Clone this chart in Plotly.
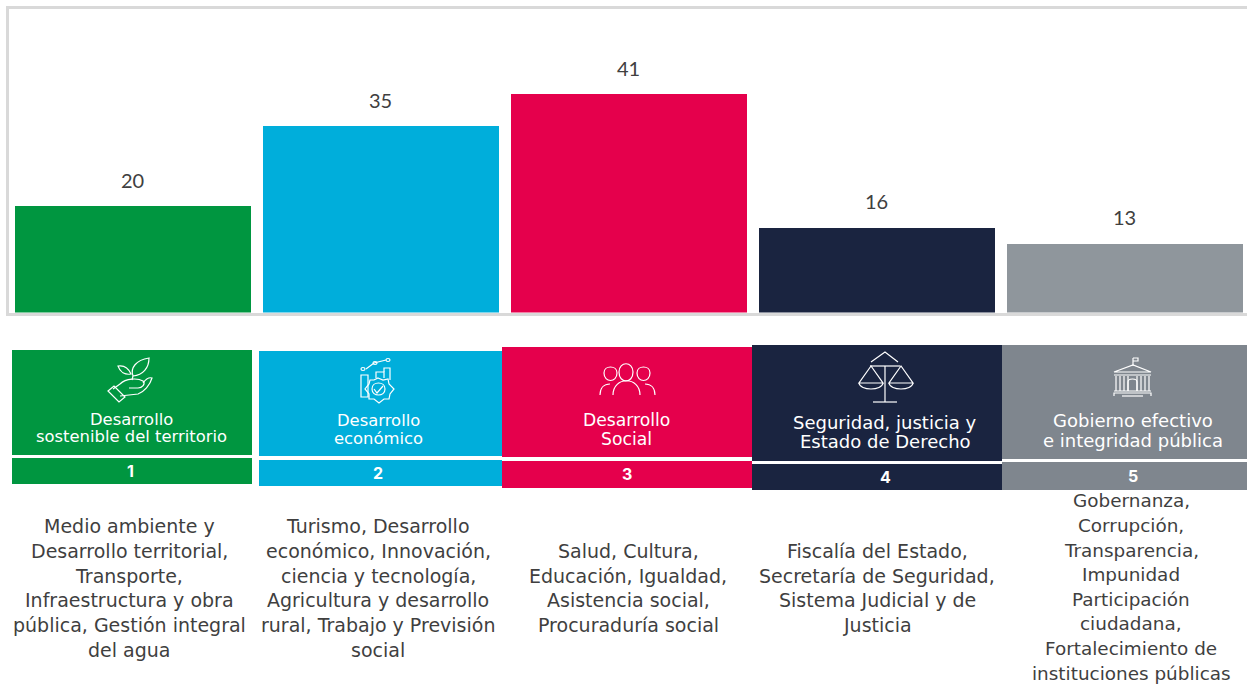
import re
import plotly.graph_objects as go

W, H = 1247, 684

categories = ["1", "2", "3", "4", "5"]
values = [20, 35, 41, 16, 13]
bar_colors = ["#009640", "#00AEDB", "#E5004C", "#1A2440", "#8F969C"]
card_colors = ["#009640", "#00AEDB", "#E5004C", "#1A2440", "#7F868E"]
card_titles = [
    ["Desarrollo", "sostenible del territorio"],
    ["Desarrollo", "económico"],
    ["Desarrollo", "Social"],
    ["Seguridad, justicia y", "Estado de Derecho"],
    ["Gobierno efectivo", "e integridad pública"],
]
descriptions = [
    ["Medio ambiente y", "Desarrollo territorial,", "Transporte,", "Infraestructura y obra",
     "pública, Gestión integral", "del agua"],
    ["Turismo, Desarrollo", "económico, Innovación,", "ciencia y tecnología,",
     "Agricultura y desarrollo", "rural, Trabajo y Previsión", "social"],
    ["Salud, Cultura,", "Educación, Igualdad,", "Asistencia social,", "Procuraduría social"],
    ["Fiscalía del Estado,", "Secretaría de Seguridad,", "Sistema Judicial y de", "Justicia"],
    ["Gobernanza,", "Corrupción,", "Transparencia,", "Impunidad", "Participación",
     "ciudadana,", "Fortalecimiento de", "instituciones públicas"],
]

# layout of the lower panel, page pixels: x0, x1, card top, card bottom, band top, band bottom
card_boxes = [
    (12, 252, 350, 455, 458, 484),
    (259, 502, 351, 456, 460, 486),
    (502, 752, 347, 457, 461, 488),
    (752, 1002, 345, 461, 464, 490),
    (1002, 1247, 345, 459, 462, 490),
]
title_line_y = [(419, 437), (420, 438), (420, 439), (422, 441), (421, 440)]
title_x = [131, 378, 627, 885, 1133]
title_size = [16.4, 16.4, 17.2, 18, 18]
number_x = [130, 378, 627, 885, 1133]
desc_x = [129, 378, 628, 877, 1131]
desc_center_y = [588, 588, 588, 588, 587]
desc_size = [19, 19, 19, 19, 18.4]
desc_spacing = 24.65

icons = [
    [  # hand and plant
        "M133 376 C130 368 136 360 149 358 C149 368 143 375 133 376 Z",
        "M131 374 C128 367 124 365 118 366 C120 372 125 375 131 374 Z",
        "M133 376 L132 380",
        "M120 384 C126 378 138 378 143 381 C146 384 142 388 138 388 L129 388",
        "M120 384 L113 389",
        "M120 396 L138 394 C144 392 150 385 152 378 C149 377 146 379 143 383",
        "M108 391 L114 386 L125 397 L119 402 Z",
    ],
    [  # chart and gear
        "M368 397 L361 397 L361 375 L368 375 Z",
        "M376 378 L376 372 L384 372 L384 378",
        "M384 372 L384 368 L390 368 L390 380",
        "M366 369 L374 363 L386 360",
        "M361 369 C361 367 365 367 365 369 C365 371 361 371 361 369 Z",
        "M373 363 C373 361 377 361 377 363 C377 365 373 365 373 363 Z",
        "M386 360 C386 358 390 358 390 360 C390 362 386 362 386 360 Z",
        "M378 378 L383 380 L388 379 L389 384 L394 389 L390 394 L389 399 L384 399 L379 403 L374 399 L369 399 L369 394 L365 389 L369 384 L370 380 L374 380 Z",
        "M372 389 C372 381 385 381 385 389 C385 397 372 397 372 389 Z",
        "M374 389 L377 393 L383 386",
    ],
    [  # people
        "M604 373 C604 365 617 365 617 373 C617 383 604 383 604 373 Z",
        "M619 372 C619 361 633 361 633 372 C633 384 619 384 619 372 Z",
        "M637 373 C637 365 650 365 650 373 C650 383 637 383 637 373 Z",
        "M613 395 C613 376 640 376 640 395",
        "M600 395 C600 388 604 384 610 384",
        "M655 395 C655 388 651 384 645 384",
    ],
    [  # scales
        "M871 362 L885 352 L898 362",
        "M870 366 L900 366",
        "M885 366 L885 402",
        "M873 402 L897 402",
        "M871 366 L859 383 L883 383 Z",
        "M901 366 L889 383 L913 383 Z",
        "M859 383 C860 391 882 391 883 383",
        "M889 383 C890 391 912 391 913 383",
    ],
    [  # public building
        "M1133 358 L1133 366",
        "M1133 358 L1138 358 L1138 361 L1133 361",
        "M1114 372 L1133 365 L1151 372 Z",
        "M1114 375 L1151 375",
        "M1116 376 L1116 391 M1120 376 L1120 391 M1124 376 L1124 391 M1128 376 L1128 391",
        "M1137 376 L1137 391 M1141 376 L1141 391 M1145 376 L1145 391 M1149 376 L1149 391",
        "M1128 391 L1128 382 C1128 378 1137 378 1137 382 L1137 391",
        "M1114 391 L1151 391",
        "M1114 396 L1114 393 L1151 393 L1151 396",
        "M1122 396 L1143 396",
    ],
]


def px(x):
    return x / W


def py(y):
    return 1 - y / H


def to_paper(path):
    parts = re.findall(r"[A-Za-z]|-?\d+\.?\d*", path)
    out, is_x = [], True
    for p in parts:
        if p.isalpha():
            out.append(p)
            is_x = True
        else:
            out.append(f"{px(float(p)):.5f}" if is_x else f"{py(float(p)):.5f}")
            is_x = not is_x
    return " ".join(out)


fig = go.Figure(
    go.Bar(
        x=categories,
        y=values,
        width=0.955,
        marker=dict(color=bar_colors, line=dict(width=0)),
        hoverinfo="skip",
    )
)

shapes, annotations = [], []
TEXT_FONT = "DejaVu Sans"


def page_text(x, y, text, font):
    annotations.append(dict(
        x=px(x), y=py(y), xref="paper", yref="paper", text=text,
        showarrow=False, align="center", xanchor="center", yanchor="middle", font=font,
    ))


for i, val in enumerate(values):
    annotations.append(dict(
        x=i, y=val, xref="x", yref="y", text=str(val), showarrow=False,
        xanchor="center", yanchor="middle", yshift=26,
        font=dict(family="Lato", size=20, color="#404040"),
    ))

for i, (x0, x1, t0, t1, b0, b1) in enumerate(card_boxes):
    for a, b in ((t0, t1), (b0, b1)):
        shapes.append(dict(
            type="rect", xref="paper", yref="paper", layer="above",
            x0=px(x0), x1=px(x1), y0=py(b), y1=py(a),
            fillcolor=card_colors[i], line=dict(width=0),
        ))
    for line, y in zip(card_titles[i], title_line_y[i]):
        page_text(title_x[i], y, line, dict(family=TEXT_FONT, size=title_size[i], color="white"))
    page_text(number_x[i], (b0 + b1) / 2, categories[i],
              dict(family="Inter", size=16, color="white", weight=700))
    n = len(descriptions[i])
    for k, line in enumerate(descriptions[i]):
        y = desc_center_y[i] + (k - (n - 1) / 2) * desc_spacing
        page_text(desc_x[i], y, line, dict(family=TEXT_FONT, size=desc_size[i], color="#3F3F3F"))
    for p in icons[i]:
        shapes.append(dict(
            type="path", xref="paper", yref="paper", layer="above",
            path=to_paper(p), line=dict(color="white", width=1.2),
        ))

fig.update_layout(
    width=W, height=H, autosize=False,
    margin=dict(l=0, r=0, t=0, b=0),
    paper_bgcolor="white", plot_bgcolor="white",
    showlegend=False, bargap=0,
    shapes=shapes, annotations=annotations,
    xaxis=dict(
        domain=[8.5 / W, 1], range=[-0.5, 4.494], type="category",
        showticklabels=False, ticks="", showgrid=False, zeroline=False,
        showline=True, mirror=True, linecolor="#D9D9D9", linewidth=2.5,
    ),
    yaxis=dict(
        domain=[1 - 312.5 / H, 1 - 8.5 / H], range=[0, 57.0],
        showticklabels=False, ticks="", showgrid=False, zeroline=False,
        showline=True, linecolor="#D9D9D9", linewidth=2.5,
    ),
)

fig.write_html(
    "out.html",
    config=dict(displayModeBar=False),
    post_script="document.body.style.margin='0';document.body.style.overflow='hidden';",
)
